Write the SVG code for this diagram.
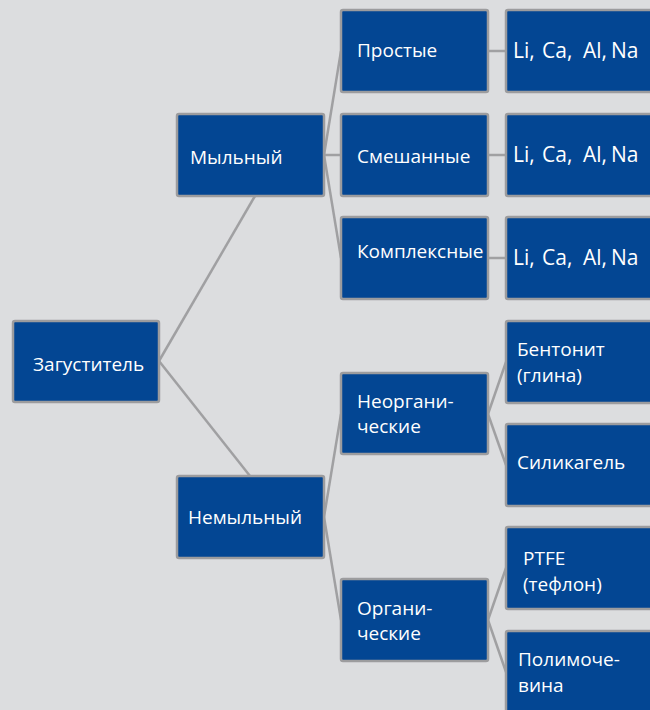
<svg xmlns="http://www.w3.org/2000/svg" width="650" height="710" viewBox="0 0 650 710">
<style>
.bg{fill:#dcdddf}
.box{fill:#034693;stroke:#9c9c9e;stroke-width:2.5}
.t{fill:#ffffff;font-family:"Open Sans","Noto Sans",sans-serif;font-size:19px}
.m{font-size:21px}
.c{stroke:#a0a0a2;stroke-width:2.5;fill:none}
</style>
<rect class="bg" x="0" y="0" width="650" height="710"/>
<g id="connectors">
<line class="c" x1="159" y1="361" x2="255" y2="196"/>
<line class="c" x1="159" y1="361" x2="250" y2="476"/>
<line class="c" x1="324" y1="155" x2="341" y2="51"/>
<line class="c" x1="324" y1="155" x2="341" y2="155"/>
<line class="c" x1="324" y1="155" x2="341" y2="258"/>
<line class="c" x1="324" y1="517" x2="341" y2="414"/>
<line class="c" x1="324" y1="517" x2="341" y2="620"/>
<line class="c" x1="488" y1="51" x2="506" y2="51"/>
<line class="c" x1="488" y1="155" x2="506" y2="155"/>
<line class="c" x1="488" y1="258" x2="506" y2="258"/>
<line class="c" x1="488" y1="414" x2="506" y2="362"/>
<line class="c" x1="488" y1="414" x2="506" y2="465"/>
<line class="c" x1="488" y1="620" x2="506" y2="568"/>
<line class="c" x1="488" y1="620" x2="506" y2="672"/>
</g>
<g id="zagustitel"><rect class="box" x="13" y="321" width="146" height="81" rx="2"/><text class="t" x="33" y="371">Загуститель</text></g>
<g id="mylny"><rect class="box" x="177" y="114" width="147" height="82" rx="2"/><text class="t" x="190" y="164">Мыльный</text></g>
<g id="nemylny"><rect class="box" x="177" y="476" width="147" height="82" rx="2"/><text class="t" x="188" y="524">Немыльный</text></g>
<g id="prostye"><rect class="box" x="341" y="10" width="147" height="82" rx="2"/><text class="t" x="357" y="57">Простые</text></g>
<g id="smeshannye"><rect class="box" x="341" y="114" width="147" height="82" rx="2"/><text class="t" x="357" y="163">Смешанные</text></g>
<g id="kompleksnye"><rect class="box" x="341" y="217" width="147" height="82" rx="2"/><text class="t" x="357" y="258">Комплексные</text></g>
<g id="neorganicheskie"><rect class="box" x="341" y="373" width="147" height="81" rx="2"/><text class="t" x="357" y="408">Неоргани-</text><text class="t" x="357" y="433">ческие</text></g>
<g id="organicheskie"><rect class="box" x="341" y="579" width="147" height="82" rx="2"/><text class="t" x="357" y="615">Органи-</text><text class="t" x="357" y="640">ческие</text></g>
<g id="metals1"><rect class="box" x="506" y="10" width="152" height="82" rx="2"/><text class="t m" y="58"><tspan x="513">Li,</tspan><tspan x="542">Ca,</tspan><tspan x="583">Al,</tspan><tspan x="611">Na</tspan></text></g>
<g id="metals2"><rect class="box" x="506" y="114" width="152" height="82" rx="2"/><text class="t m" y="162"><tspan x="513">Li,</tspan><tspan x="542">Ca,</tspan><tspan x="583">Al,</tspan><tspan x="611">Na</tspan></text></g>
<g id="metals3"><rect class="box" x="506" y="217" width="152" height="82" rx="2"/><text class="t m" y="265"><tspan x="513">Li,</tspan><tspan x="542">Ca,</tspan><tspan x="583">Al,</tspan><tspan x="611">Na</tspan></text></g>
<g id="bentonit"><rect class="box" x="506" y="321" width="152" height="82" rx="2"/><text class="t" x="517" y="356">Бентонит</text><text class="t" x="517" y="382">(глина)</text></g>
<g id="silikagel"><rect class="box" x="506" y="424" width="152" height="82" rx="2"/><text class="t" x="517" y="469">Силикагель</text></g>
<g id="ptfe"><rect class="box" x="506" y="527" width="152" height="82" rx="2"/><text class="t" x="523" y="565">PTFE</text><text class="t" x="523" y="591">(тефлон)</text></g>
<g id="polimochevina"><rect class="box" x="506" y="631" width="152" height="90" rx="2"/><text class="t" x="518" y="666">Полимоче-</text><text class="t" x="518" y="692">вина</text></g>
</svg>
